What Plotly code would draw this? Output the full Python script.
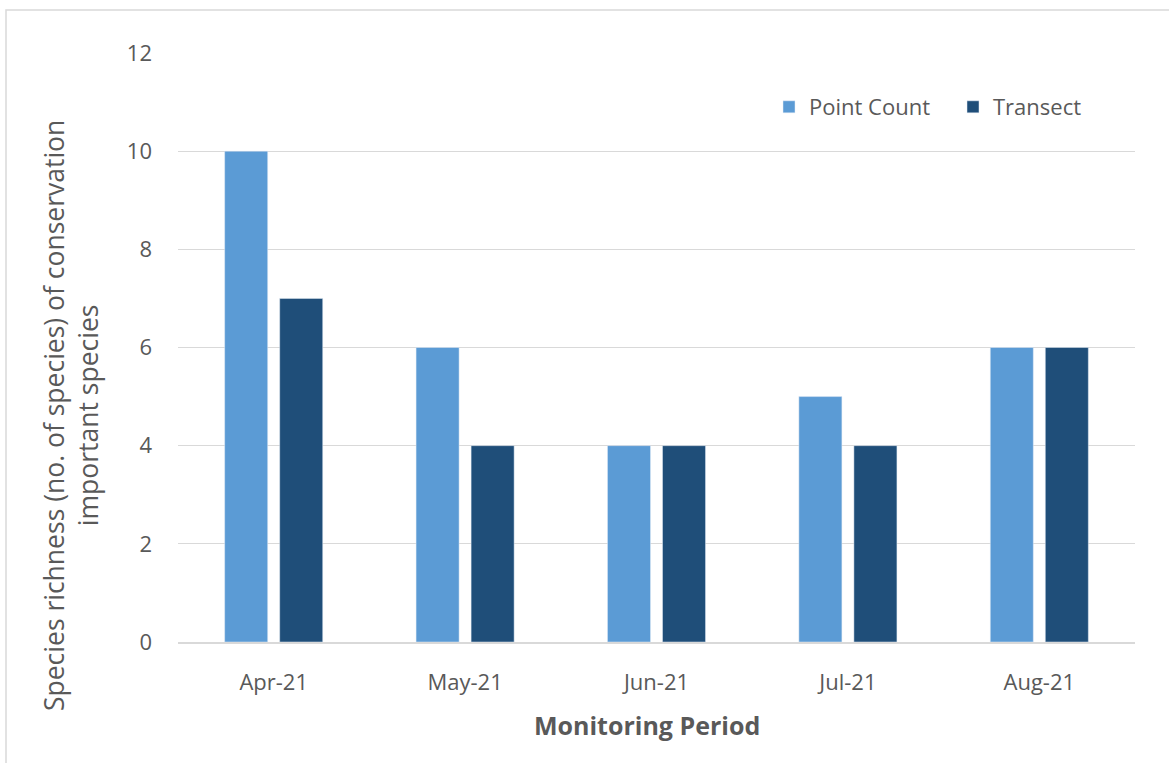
import plotly.graph_objects as go

categories = ["Apr-21", "May-21", "Jun-21", "Jul-21", "Aug-21"]
point_count = [10, 6, 4, 5, 6]
transect = [7, 4, 4, 4, 6]
y_ticks = [0, 2, 4, 6, 8, 10, 12]

W, H = 1169, 763
L, R, T, B = 178, 34, 53, 121
pw, ph = W - L - R, H - T - B

def px_x(x):
    return (x - L) / pw

def px_y(y):
    return (H - B - y) / ph

FONT = "Open Sans"
GREY = "#595959"

fig = go.Figure()
fig.add_trace(go.Bar(x=categories, y=point_count, name="Point Count", marker_color="#5B9BD5"))
fig.add_trace(go.Bar(x=categories, y=transect, name="Transect", marker_color="#1F4E79"))

fig.update_layout(
    width=W, height=H,
    margin=dict(l=L, r=R, t=T, b=B, pad=0),
    paper_bgcolor="white", plot_bgcolor="white",
    barmode="group", bargap=0.425, bargroupgap=0.218,
    font=dict(family=FONT, color=GREY, size=22),
    showlegend=True,
    legend=dict(orientation="h", x=px_x(769), y=px_y(107), xanchor="left", yanchor="middle",
                font=dict(size=22, color=GREY), bgcolor="rgba(0,0,0,0)",
                entrywidth=139, tracegroupgap=0),
    xaxis=dict(showgrid=False, showline=True, linecolor="#D9D9D9", linewidth=1.5,
               ticks="", ticklabelstandoff=20, tickfont=dict(size=22, color=GREY)),
    yaxis=dict(range=[0, 12], tickvals=y_ticks, showgrid=True, gridcolor="#D9D9D9", gridwidth=1,
               zeroline=False, showline=False, ticks="", ticklabelstandoff=25,
               tickfont=dict(size=22, color=GREY)),
    shapes=[dict(type="rect", xref="paper", yref="paper",
                 x0=px_x(6), x1=px_x(1190), y0=px_y(790), y1=px_y(10),
                 line=dict(color="#D9D9D9", width=1.5), fillcolor="rgba(0,0,0,0)", layer="below")],
    annotations=[
        dict(text="Species richness (no. of species) of conservation<br>important species",
             xref="paper", yref="paper", x=px_x(71), y=px_y(416), xanchor="center", yanchor="middle",
             textangle=-90, showarrow=False, font=dict(size=26.5, color=GREY, family=FONT)),
        dict(text="<b>Monitoring Period</b>", xref="paper", yref="paper",
             x=px_x(647), y=px_y(725), xanchor="center", yanchor="middle",
             showarrow=False, font=dict(size=25, color=GREY, family=FONT)),
    ],
)

fig.write_html("out.html", config={"displayModeBar": False},
               post_script="document.body.style.margin='0';document.body.style.overflow='hidden';")
